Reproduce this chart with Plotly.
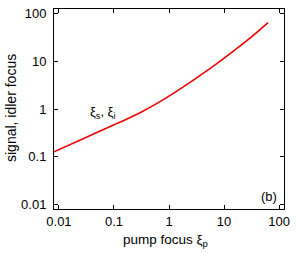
import plotly.graph_objects as go

pump_focus = [0.0081, 0.0316, 0.1, 0.158, 0.316, 0.562, 1.0, 2.0, 3.98, 7.94, 15.85, 31.6, 63.1]
signal_idler_focus = [0.126, 0.255, 0.465, 0.589, 0.867, 1.247, 1.862, 3.13, 5.40, 9.57, 17.46, 32.7, 65.0]
tick_vals = [0.01, 0.1, 1, 10, 100]
tick_text = ["0.01", "0.1", "1", "10", "100"]

fig = go.Figure()
fig.add_trace(go.Scatter(x=pump_focus, y=signal_idler_focus, mode="lines",
                         line=dict(color="#ee0000", width=1.6, shape="spline"),
                         showlegend=False, hoverinfo="skip"))

axis_common = dict(type="log", showline=True, linecolor="black", linewidth=1,
                   mirror="ticks", ticks="inside", ticklen=4, tickcolor="black",
                   showgrid=False, zeroline=False, tickvals=tick_vals, ticktext=tick_text,
                   tickfont=dict(size=13, color="black"), automargin=False)

fig.update_layout(
    width=297, height=253,
    margin=dict(l=54, r=13, t=9, b=44),
    paper_bgcolor="white", plot_bgcolor="white",
    font=dict(family="Liberation Sans, Arial, sans-serif", color="black", size=13),
    xaxis=dict(range=[-2.09, 2.09], **axis_common),
    yaxis=dict(range=[-2.1, 2.1], ticklabelstandoff=4, **axis_common),
    annotations=[
        dict(x=-1.2, y=-0.08, xref="x", yref="y", text="ξ<sub>s</sub>, ξ<sub>i</sub>",
             showarrow=False, font=dict(size=13)),
        dict(x=1.82, y=-1.83, xref="x", yref="y", text="(b)", showarrow=False, font=dict(size=13)),
        dict(x=(165 - 54) / 230, y=(209 - 240) / 200, xref="paper", yref="paper",
             text="pump focus ξ<sub>p</sub>", showarrow=False, font=dict(size=13.5),
             xanchor="center", yanchor="middle"),
        dict(x=(11 - 54) / 230, y=(209 - 108) / 200, xref="paper", yref="paper",
             text="signal, idler focus", showarrow=False, font=dict(size=14), textangle=-90,
             xanchor="center", yanchor="middle"),
    ],
)

fig.write_html("out.html", config={"displayModeBar": False},
               post_script="document.body.style.margin='0';")
